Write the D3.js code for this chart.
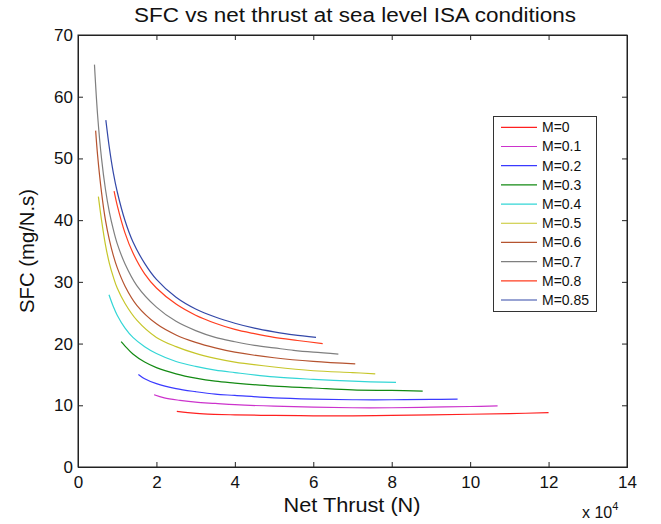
<!DOCTYPE html>
<html><head><meta charset="utf-8">
<script src="https://cdn.jsdelivr.net/npm/d3@7/dist/d3.min.js"></script>
<style>body{margin:0;background:#fff}svg{display:block}text{font-family:"Liberation Sans",Arial,sans-serif}</style>
</head><body><svg id="c" width="661" height="524"></svg>
<script>
// ---- data (thrust in units of 1e4 N, SFC in mg/N.s) ----
const seriesNames = ["M=0","M=0.1","M=0.2","M=0.3","M=0.4","M=0.5","M=0.6","M=0.7","M=0.8","M=0.85"];
const seriesColors = ["#ff2020","#cc33cc","#3a3aff","#138a13","#33d6d6","#c6c62a","#b5532f","#7f7f7f","#ff3d1f","#3348a8"];
const m0   = [[2.52,9.0],[2.8,8.8],[3.2,8.6],[4.0,8.45],[5.0,8.35],[6.0,8.3],[7.0,8.3],[8.0,8.35],[9.0,8.45],[10.0,8.55],[11.0,8.65],[12.0,8.8]];
const m01  = [[1.94,11.7],[2.2,11.2],[2.6,10.8],[3.0,10.5],[3.5,10.3],[4.0,10.1],[5.0,9.85],[6.0,9.7],[7.0,9.6],[8.0,9.6],[9.0,9.7],[10.0,9.8],[10.7,9.9]];
const m02  = [[1.54,15.0],[1.7,14.3],[2.0,13.5],[2.5,12.7],[3.0,12.2],[3.5,11.8],[4.0,11.6],[5.0,11.2],[6.0,11.0],[7.0,10.9],[8.0,10.9],[9.0,10.95],[9.68,11.0]];
const m03  = [[1.10,20.3],[1.2,19.6],[1.4,18.3],[1.7,17.0],[2.0,16.1],[2.5,15.1],[3.0,14.4],[3.5,13.9],[4.0,13.6],[5.0,13.1],[6.0,12.8],[7.0,12.5],[8.0,12.4],[8.79,12.3]];
const m04  = [[0.79,27.9],[0.9,26.0],[1.0,24.6],[1.2,22.5],[1.4,21.0],[1.7,19.5],[2.0,18.4],[2.5,17.1],[3.0,16.3],[3.5,15.7],[4.0,15.3],[5.0,14.6],[6.0,14.2],[7.0,13.9],[8.11,13.7]];
const m05  = [[0.52,43.8],[0.6,40.0],[0.7,36.0],[0.8,33.0],[0.9,30.8],[1.0,29.0],[1.2,26.5],[1.5,23.8],[2.0,21.0],[2.5,19.5],[3.0,18.4],[3.5,17.6],[4.0,17.0],[5.0,16.2],[6.0,15.6],[7.0,15.3],[7.58,15.1]];
const m06  = [[0.45,54.5],[0.5,50.5],[0.6,44.5],[0.7,40.0],[0.8,36.8],[0.9,34.3],[1.0,32.3],[1.2,29.3],[1.5,26.2],[2.0,23.2],[2.5,21.4],[3.0,20.2],[3.5,19.3],[4.0,18.6],[5.0,17.7],[6.0,17.1],[7.07,16.7]];
const m07  = [[0.42,65.2],[0.5,57.0],[0.6,50.0],[0.7,45.0],[0.8,41.3],[0.9,38.5],[1.0,36.2],[1.2,32.9],[1.5,29.4],[2.0,25.9],[2.5,23.6],[3.0,22.1],[3.5,21.0],[4.0,20.3],[4.5,19.7],[5.0,19.3],[5.5,18.9],[6.0,18.6],[6.64,18.3]];
const m08  = [[0.92,44.7],[1.0,42.4],[1.2,37.9],[1.4,34.7],[1.7,31.3],[2.0,29.0],[2.5,26.4],[3.0,24.6],[3.5,23.3],[4.0,22.3],[4.5,21.6],[5.0,21.0],[5.6,20.5],[6.24,20.0]];
const m085 = [[0.71,56.2],[0.8,51.7],[0.9,47.7],[1.0,44.6],[1.2,39.9],[1.4,36.5],[1.7,33.0],[2.0,30.4],[2.5,27.5],[3.0,25.6],[3.5,24.3],[4.0,23.3],[4.5,22.5],[5.0,21.9],[5.5,21.4],[6.07,21.0]];
const seriesData = [m0,m01,m02,m03,m04,m05,m06,m07,m08,m085];
const xTicks = [0,2,4,6,8,10,12,14];
const yTicks = [0,10,20,30,40,50,60,70];
const titleText = "SFC vs net thrust at sea level ISA conditions";
const xLabel = "Net Thrust (N)";
const yLabel = "SFC (mg/N.s)";

// ---- layout ----
const svg = d3.select("#c");
const L = 78, R = 627, T = 35, B = 467;
const x = d3.scaleLinear().domain([0,14]).range([L,R]);
const y = d3.scaleLinear().domain([0,70]).range([B,T]);

// frame
svg.append("rect").attr("x",L).attr("y",T).attr("width",R-L).attr("height",B-T)
  .attr("fill","none").attr("stroke","#222").attr("stroke-width",1);

// axes (inward ticks)
const gx = svg.append("g").attr("transform",`translate(0,${B})`)
  .call(d3.axisBottom(x).tickValues(xTicks).tickSize(-5).tickPadding(9).tickFormat(d3.format("d")));
const gxt = svg.append("g").attr("transform",`translate(0,${T})`)
  .call(d3.axisTop(x).tickValues(xTicks).tickSize(-5).tickFormat(""));
const gy = svg.append("g").attr("transform",`translate(${L},0)`)
  .call(d3.axisLeft(y).tickValues(yTicks).tickSize(-5).tickPadding(5).tickFormat(d3.format("d")));
const gyr = svg.append("g").attr("transform",`translate(${R},0)`)
  .call(d3.axisRight(y).tickValues(yTicks).tickSize(-5).tickFormat(""));
[gx,gxt,gy,gyr].forEach(g=>{
  g.select(".domain").attr("stroke","#222");
  g.selectAll(".tick line").attr("stroke","#222");
  g.selectAll("text").attr("font-size",17).attr("fill","#111").attr("font-family","Liberation Sans, Arial, sans-serif");
});
gx.selectAll(".tick").filter(d=>d===0||d===14).select("line").attr("stroke","none");
gy.selectAll(".tick").filter(d=>d===0||d===70).select("line").attr("stroke","none");

// lines
const line = d3.line().x(d=>x(d[0])).y(d=>y(d[1])).curve(d3.curveCatmullRom.alpha(0.5));
seriesData.forEach((s,i)=>{
  svg.append("path").datum(s).attr("d",line).attr("fill","none")
    .attr("stroke",seriesColors[i]).attr("stroke-width",1.2);
});

// title & labels
svg.append("text").attr("x",355).attr("y",22).attr("text-anchor","middle")
  .attr("font-size",20).attr("fill","#111").attr("textLength",442).attr("lengthAdjust","spacingAndGlyphs").text(titleText);
svg.append("text").attr("x",352).attr("y",512).attr("text-anchor","middle")
  .attr("font-size",20).attr("fill","#111").attr("textLength",137).attr("lengthAdjust","spacingAndGlyphs").text(xLabel);
svg.append("text").attr("transform",`translate(34,${(T+B)/2}) rotate(-90)`).attr("text-anchor","middle")
  .attr("font-size",20).attr("fill","#111").attr("textLength",124).attr("lengthAdjust","spacingAndGlyphs").text(yLabel);
const ex = svg.append("text").attr("x",582).attr("y",518).attr("font-size",16).attr("fill","#111");
ex.append("tspan").text("x 10");
ex.append("tspan").attr("dy",-8).attr("font-size",11).text("4");

// legend
const lg = svg.append("g");
lg.append("rect").attr("x",493.5).attr("y",116.5).attr("width",103).attr("height",195)
  .attr("fill","#fff").attr("stroke","#333").attr("stroke-width",1);
const ly = d3.scalePoint().domain(seriesNames).range([127.3,300]);
seriesNames.forEach((n,i)=>{
  lg.append("line").attr("x1",501).attr("x2",537).attr("y1",ly(n)).attr("y2",ly(n))
    .attr("stroke",seriesColors[i]).attr("stroke-width",1.2);
  lg.append("text").attr("x",542).attr("y",ly(n)+5).attr("font-size",14).attr("fill","#111").text(n);
});
</script></body></html>
